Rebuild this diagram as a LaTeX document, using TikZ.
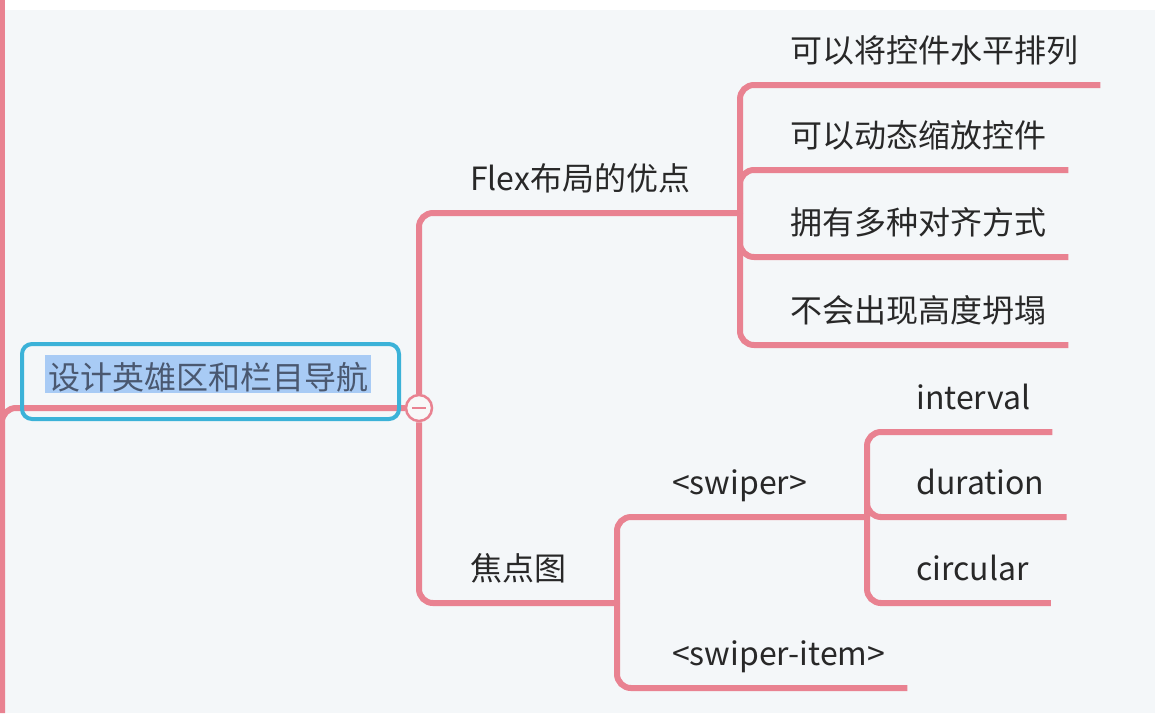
\documentclass[tikz,border=0pt]{standalone}
\usepackage{fontspec}
\setmainfont{Noto Sans CJK SC}
\definecolor{branchpink}{RGB}{233,130,145}
\definecolor{rootblue}{RGB}{59,178,216}
\definecolor{hiblue}{RGB}{168,203,245}
\definecolor{roottext}{RGB}{74,88,112}
\definecolor{topictext}{RGB}{40,40,40}
\definecolor{paper}{RGB}{244,247,249}
\definecolor{foldfill}{RGB}{248,248,248}
\tikzset{
  branch/.style={draw=branchpink, line width=6pt, rounded corners=14pt},
  topic/.style={anchor=south west, inner xsep=22pt, inner ysep=0pt,
    text height=24pt, text depth=22pt,
    font=\fontsize{32}{38}\selectfont, text=topictext},
  rootlabel/.style={fill=hiblue, inner xsep=3pt, inner ysep=0pt,
    text height=34pt, text depth=4pt,
    font=\fontsize{32}{38}\selectfont, text=roottext},
  rootbox/.style={draw=rootblue, line width=4pt, rounded corners=10pt},
  fold/.style={circle, draw=branchpink, fill=foldfill, line width=2.5pt,
    minimum size=26pt, inner sep=0pt},
}
\begin{document}
\begin{tikzpicture}[x=1pt,y=-1pt]
\useasboundingbox (0,0) rectangle (1155,713);
\fill[white] (0,0) rectangle (1155,10);
\fill[paper] (0,10) rectangle (1155,713);

% main branch on the left
\coordinate (maintop) at (2,0);
\coordinate (mainbottom) at (2,713);
\draw[branch] (maintop) -- (mainbottom);
\node[fold] (fold) at (419,408) {};
\draw[branch] (mainbottom) |- (fold.west);
\draw[branchpink, line width=2.5pt] ([xshift=-7pt]fold.center) -- ([xshift=7pt]fold.center);

% root topic
\node[rootlabel] (root) at (208,374) {设计英雄区和栏目导航};
\draw[rootbox] (22,344) rectangle (399,419);

% forks
\coordinate (flexfork) at (740,213);
\coordinate (focusfork) at (617,603);
\coordinate (swiperfork) at (867,517);

% Flex布局的优点
\node[topic] (flex) at (448,213) {Flex布局的优点};
\draw[branch] (fold.north) |- (flexfork);

\node[topic] (horiz) at (768,85) {可以将控件水平排列};
\node[topic] (scale) at (768,170) {可以动态缩放控件};
\node[topic] (align) at (768,257) {拥有多种对齐方式};
\node[topic] (height) at (768,345) {不会出现高度坍塌};
\draw[branch] (flexfork) |- (horiz.south west) -- (horiz.south east);
\draw[branch] (flexfork) |- (scale.south west) -- (scale.south east);
\draw[branch] (flexfork) |- (align.south west) -- (align.south east);
\draw[branch] (flexfork) |- (height.south west) -- (height.south east);

% 焦点图
\node[topic] (focus) at (448,603) {焦点图};
\draw[branch] (fold.south) |- (focusfork);

\node[topic] (swiper) at (650,517) {<swiper>};
\node[topic] (swiperitem) at (650,688) {<swiper-item>};
\draw[branch] (focusfork) |- (swiper.south west) -- (swiperfork);
\draw[branch] (focusfork) |- (swiperitem.south west) -- (swiperitem.south east);

\node[topic] (interval) at (894,432) {interval};
\node[topic] (duration) at (894,517) {duration};
\node[topic] (circular) at (894,603) {circular};
\draw[branch] (swiperfork) |- (interval.south west) -- (interval.south east);
\draw[branch] (swiperfork) |- (duration.south west) -- (duration.south east);
\draw[branch] (swiperfork) |- (circular.south west) -- (circular.south east);
\end{tikzpicture}
\end{document}
